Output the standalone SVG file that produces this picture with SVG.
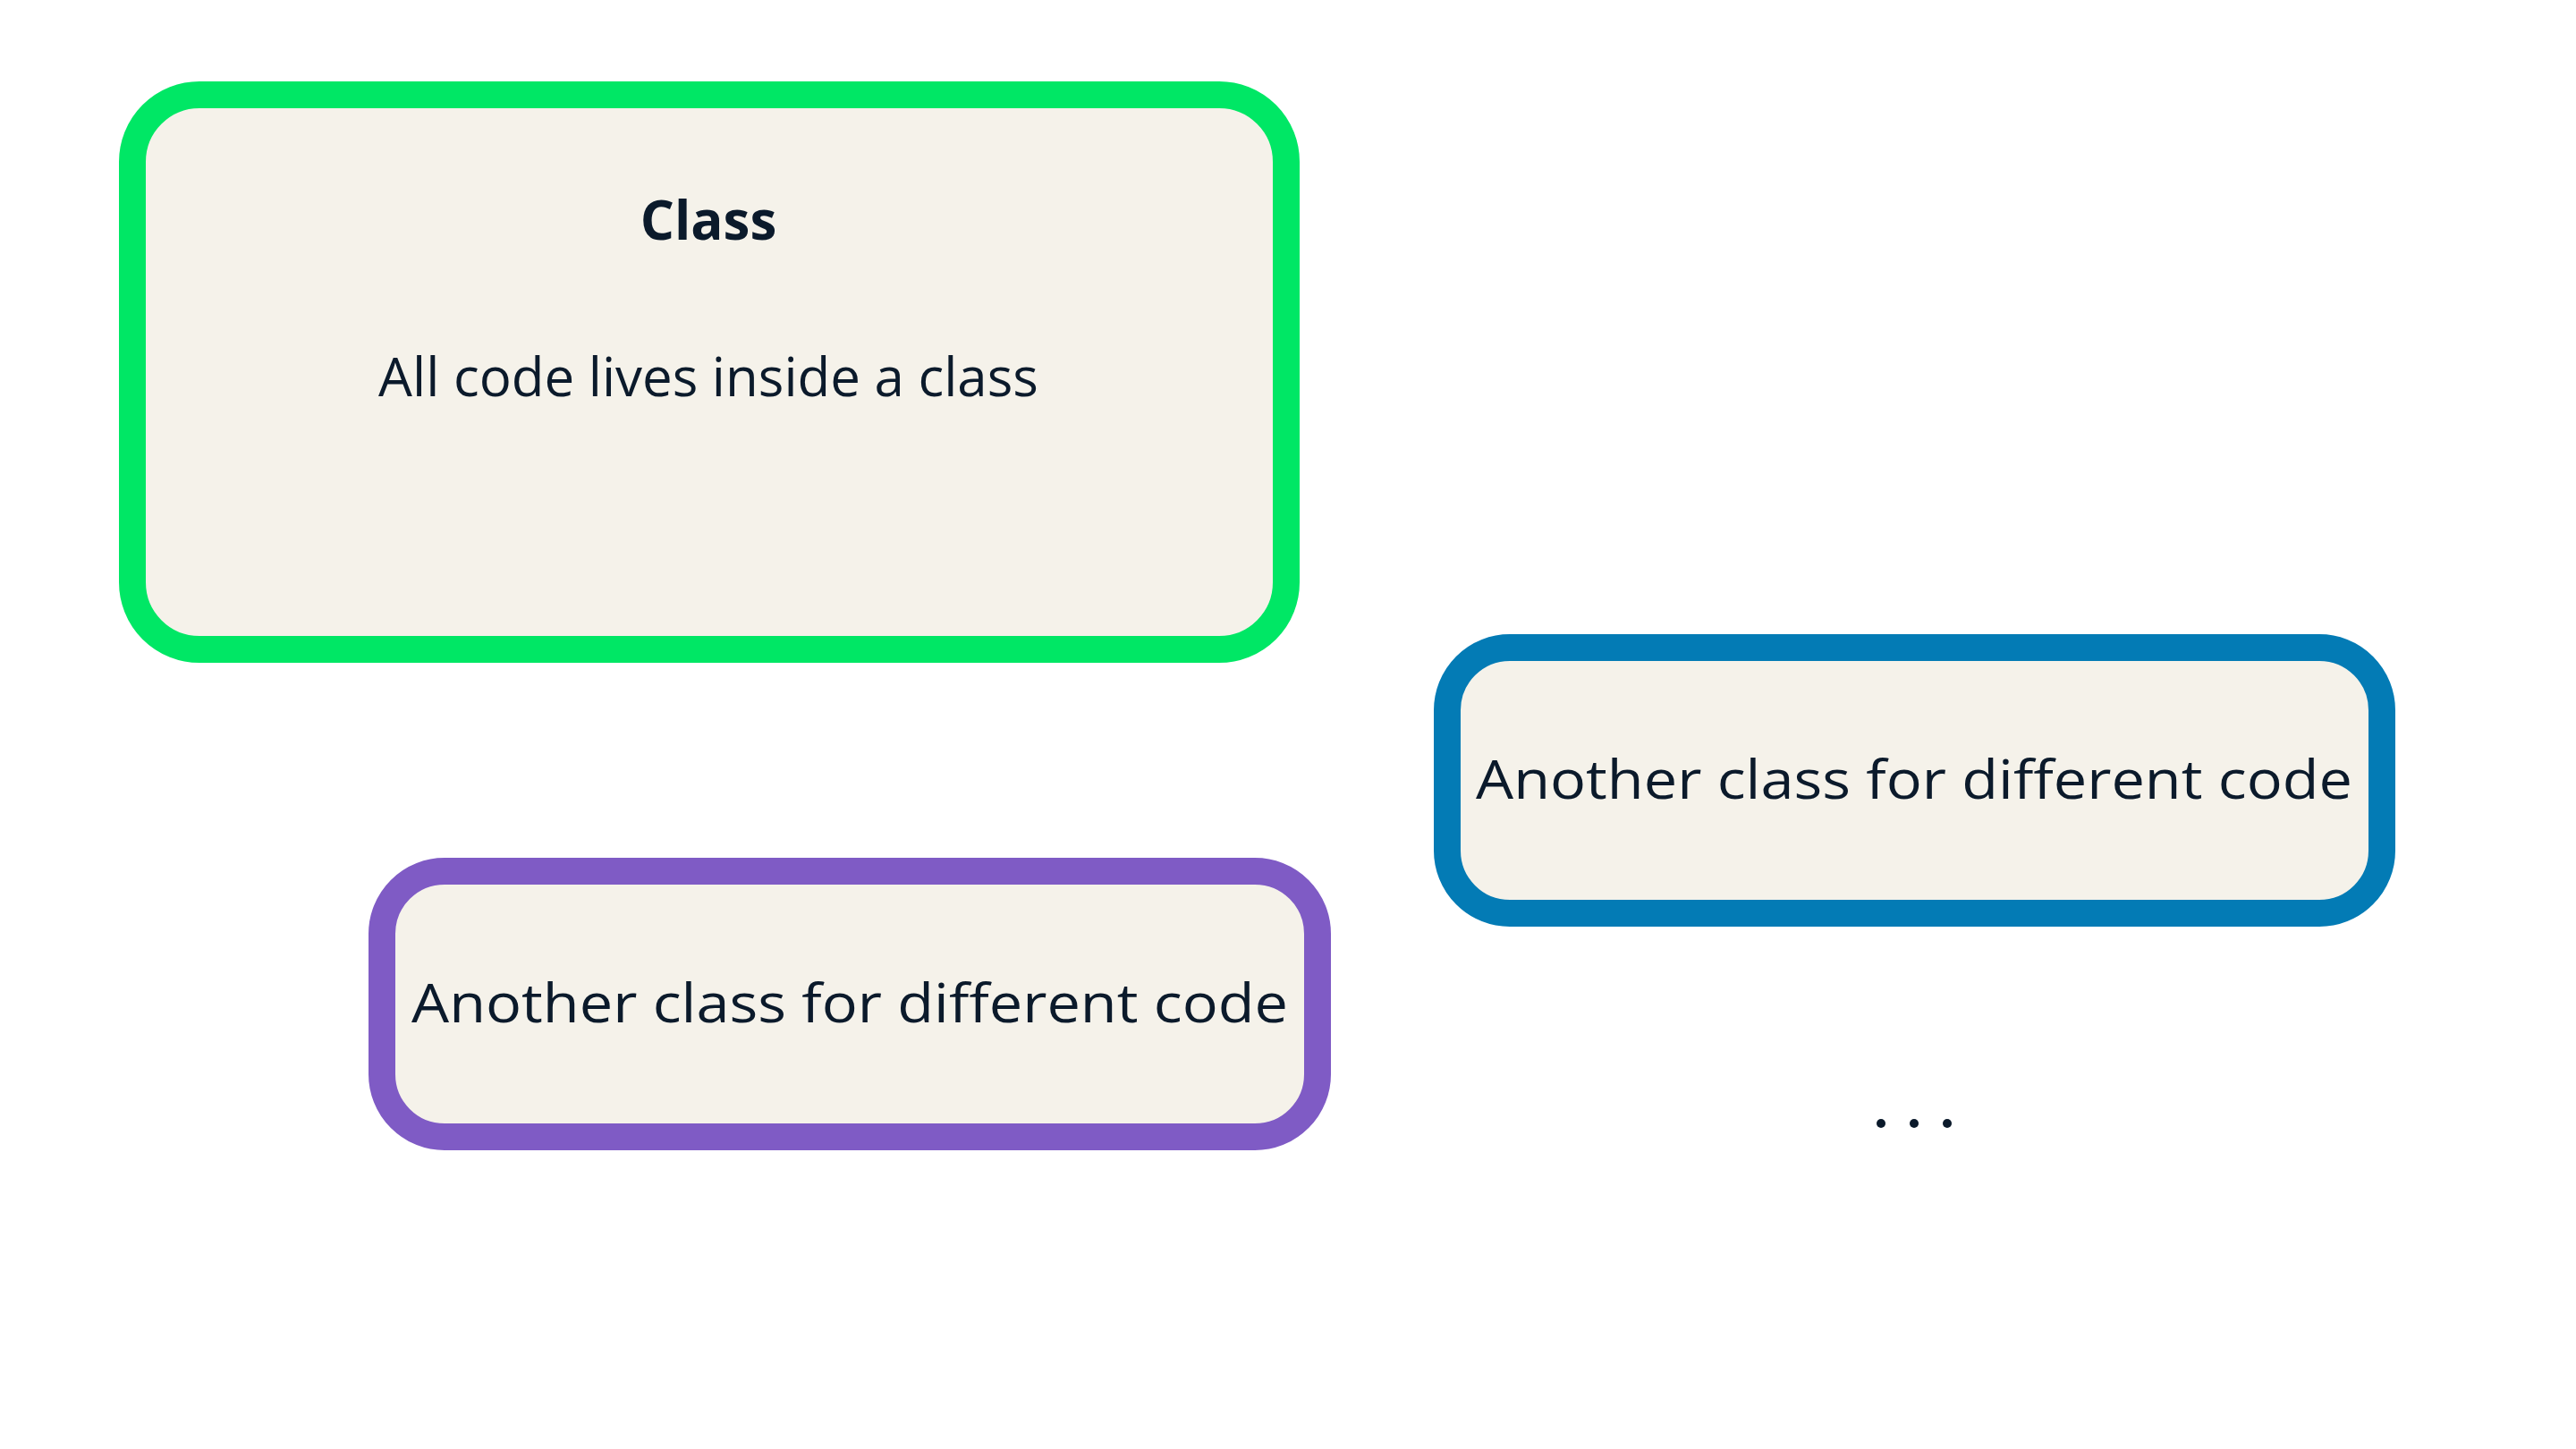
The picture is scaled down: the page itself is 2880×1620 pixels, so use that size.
<svg xmlns="http://www.w3.org/2000/svg" width="2880" height="1620" viewBox="0 0 2880 1620">
<style>
.box{fill:#F5F2EA;stroke-width:30}
.t{font-family:"Open Sans","Liberation Sans",sans-serif;fill:#0B1A2B;text-anchor:middle;font-size:60px}
</style>
<rect width="2880" height="1620" fill="#fff"/>
<g id="class">
<rect class="box" x="148" y="106" width="1290" height="620" rx="75" stroke="#00E765"/>
<text class="t" x="792" y="268" font-weight="bold" font-size="58">Class</text>
<text class="t" x="792" y="443">All code lives inside a class</text>
</g>
<g id="another1">
<rect class="box" x="1618" y="724" width="1045" height="297" rx="70" stroke="#037BB5"/>
<text class="t" x="2140" y="893" textLength="980" lengthAdjust="spacingAndGlyphs">Another class for different code</text>
</g>
<g id="another2">
<rect class="box" x="427" y="974" width="1046" height="297" rx="70" stroke="#7F5BC5"/>
<text class="t" x="950" y="1143" textLength="980" lengthAdjust="spacingAndGlyphs">Another class for different code</text>
</g>
<g id="dots">
<circle cx="2103" cy="1256" r="5" fill="#0B1A2B"/>
<circle cx="2140" cy="1256" r="5" fill="#0B1A2B"/>
<circle cx="2177" cy="1256" r="5" fill="#0B1A2B"/>
</g>
<g id="connectors"/>
</svg>
